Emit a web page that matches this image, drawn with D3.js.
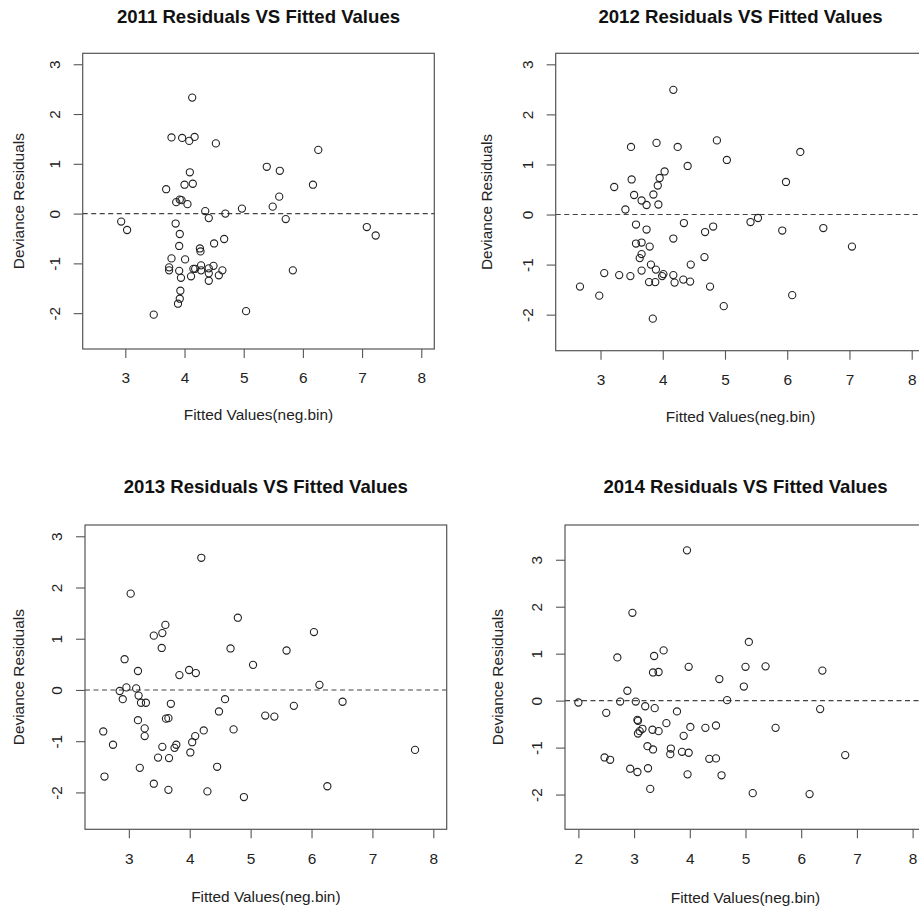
<!DOCTYPE html>
<html>
<head>
<meta charset="utf-8">
<script src="https://cdn.jsdelivr.net/npm/d3@7"></script>
<style>
    body { margin: 0; background: #fff; }
    svg { display: block; font-family: 'Liberation Sans', Arial, Helvetica, sans-serif; }
</style>
</head>
<body>
<svg width="919" height="911"></svg>
<script>
// values
const fitted2011 = [4.13, 3.78, 3.96, 4.08, 4.17, 4.53, 6.26, 5.39, 5.61, 4.09, 4.00, 4.14, 6.17, 3.69, 5.60, 3.86, 3.92, 3.95, 4.05, 5.49, 4.97, 4.35, 4.69, 4.41, 5.71, 2.93, 3.03, 3.85, 3.92, 7.08, 7.23, 4.67, 4.50, 3.91, 4.26, 4.27, 3.78, 4.01, 3.74, 3.74, 3.91, 3.94, 4.11, 4.15, 4.18, 4.28, 4.28, 4.41, 4.41, 4.41, 4.49, 4.58, 4.64, 5.83, 3.93, 3.92, 3.89, 3.48, 5.04];
const resid2011 = [2.33, 1.53, 1.52, 1.46, 1.54, 1.41, 1.28, 0.94, 0.86, 0.83, 0.58, 0.60, 0.58, 0.49, 0.34, 0.23, 0.28, 0.27, 0.19, 0.14, 0.10, 0.05, 0.00, -0.09, -0.11, -0.16, -0.33, -0.20, -0.41, -0.27, -0.44, -0.51, -0.60, -0.65, -0.70, -0.76, -0.90, -0.92, -1.08, -1.14, -1.15, -1.29, -1.26, -1.11, -1.11, -1.04, -1.14, -1.10, -1.20, -1.35, -1.05, -1.24, -1.14, -1.14, -1.55, -1.71, -1.81, -2.03, -1.96];

const fitted2012 = [4.17, 3.49, 3.90, 4.24, 4.87, 5.03, 6.21, 4.40, 5.98, 3.22, 3.50, 3.95, 4.03, 3.92, 3.54, 3.85, 3.66, 3.74, 3.93, 3.40, 3.57, 3.74, 4.34, 4.17, 4.68, 4.81, 5.41, 5.53, 5.92, 6.58, 7.04, 3.57, 3.66, 3.79, 3.66, 3.63, 4.67, 3.81, 3.89, 4.45, 3.66, 3.06, 3.30, 3.48, 3.99, 4.01, 4.17, 3.78, 3.88, 4.19, 4.33, 4.44, 4.76, 2.67, 2.98, 6.08, 4.98, 3.84];
const resid2012 = [2.49, 1.35, 1.43, 1.35, 1.48, 1.09, 1.25, 0.97, 0.65, 0.55, 0.70, 0.73, 0.86, 0.58, 0.39, 0.40, 0.28, 0.19, 0.20, 0.10, -0.20, -0.30, -0.17, -0.48, -0.35, -0.24, -0.15, -0.07, -0.32, -0.27, -0.64, -0.58, -0.56, -0.64, -0.79, -0.87, -0.85, -1.00, -1.10, -1.00, -1.12, -1.17, -1.21, -1.23, -1.23, -1.19, -1.21, -1.35, -1.35, -1.36, -1.30, -1.34, -1.44, -1.44, -1.62, -1.61, -1.83, -2.08];

const fitted2013 = [4.19, 3.03, 4.79, 3.60, 3.41, 3.55, 6.04, 3.54, 4.67, 5.59, 2.93, 3.15, 5.04, 3.99, 4.10, 3.83, 2.85, 2.96, 3.12, 2.90, 3.16, 3.20, 3.28, 6.13, 6.51, 3.69, 4.58, 4.48, 5.71, 5.24, 5.39, 3.61, 3.65, 3.15, 3.26, 3.26, 2.58, 4.23, 4.72, 4.09, 2.74, 4.04, 3.55, 3.75, 3.78, 4.01, 3.48, 3.66, 7.70, 3.18, 4.45, 2.60, 3.41, 3.65, 4.29, 6.26, 4.89];
const resid2013 = [2.58, 1.88, 1.41, 1.27, 1.06, 1.11, 1.13, 0.82, 0.81, 0.77, 0.60, 0.37, 0.49, 0.39, 0.33, 0.29, -0.02, 0.05, 0.03, -0.18, -0.11, -0.25, -0.25, 0.10, -0.23, -0.27, -0.18, -0.42, -0.31, -0.50, -0.52, -0.56, -0.55, -0.59, -0.75, -0.90, -0.81, -0.79, -0.77, -0.90, -1.07, -1.02, -1.11, -1.13, -1.07, -1.22, -1.32, -1.33, -1.17, -1.52, -1.50, -1.69, -1.83, -1.95, -1.98, -1.88, -2.09];

const fitted2014 = [3.95, 2.97, 5.06, 3.53, 2.70, 3.36, 3.98, 5.00, 5.36, 6.38, 3.34, 3.44, 4.53, 4.97, 2.88, 2.00, 2.75, 3.03, 4.67, 3.20, 3.37, 2.50, 3.77, 6.34, 3.06, 3.07, 3.58, 4.01, 4.28, 4.47, 5.54, 3.33, 3.44, 3.15, 3.10, 3.07, 3.89, 3.24, 3.34, 3.66, 3.65, 3.86, 3.98, 6.79, 2.47, 2.57, 4.35, 4.47, 2.93, 3.25, 3.06, 3.96, 4.57, 3.29, 5.13, 6.15];
const resid2014 = [3.20, 1.87, 1.25, 1.07, 0.92, 0.95, 0.72, 0.72, 0.73, 0.64, 0.60, 0.61, 0.46, 0.30, 0.21, -0.04, -0.02, -0.02, 0.01, -0.12, -0.16, -0.26, -0.23, -0.18, -0.41, -0.43, -0.48, -0.56, -0.58, -0.53, -0.58, -0.62, -0.65, -0.60, -0.65, -0.70, -0.75, -0.97, -1.04, -1.02, -1.14, -1.09, -1.11, -1.16, -1.21, -1.26, -1.24, -1.23, -1.45, -1.44, -1.52, -1.57, -1.59, -1.88, -1.97, -1.99];

const years = ['2011', '2012', '2013', '2014'];
const xTicks = [3, 4, 5, 6, 7, 8];
const xTicks2014 = [2, 3, 4, 5, 6, 7, 8];
const yTicks = [-2, -1, 0, 1, 2, 3];
const xLim = [2.5, 8];
const xLim2014 = [2, 8];
const yLim = [-2.5, 3];
const yLim2014 = [-2.5, 3.5];

const xTitle = 'Fitted Values(neg.bin)';
const yTitle = 'Deviance Residuals';

// R pads the axis limits by 4% on each side
const pad = lim => {
    const d = (lim[1] - lim[0]) * 0.04;
    return [lim[0] - d, lim[1] + d];
};

const panels = [
    { year: years[0], fitted: fitted2011, resid: resid2011, xt: xTicks, xl: xLim, yl: yLim,
      box: { left: 82.7, right: 434.3, top: 53.3, bottom: 349 }, titleY: 22.7, xLabY: 415, yLabX: 18.3 },
    { year: years[1], fitted: fitted2012, resid: resid2012, xt: xTicks, xl: xLim, yl: yLim,
      box: { left: 555.7, right: 925.4, top: 53.3, bottom: 350.7 }, titleY: 22.7, xLabY: 416.7, yLabX: 486.7 },
    { year: years[2], fitted: fitted2013, resid: resid2013, xt: xTicks, xl: xLim, yl: yLim,
      box: { left: 85, right: 446.7, top: 525, bottom: 829.3 }, titleY: 493, xLabY: 896.7, yLabX: 18.3 },
    { year: years[3], fitted: fitted2014, resid: resid2014, xt: xTicks2014, xl: xLim2014, yl: yLim2014,
      box: { left: 565, right: 926, top: 525, bottom: 829.3 }, titleY: 493, xLabY: 897.7, yLabX: 497.7 },
];

const svg = d3.select('svg');
// plain hyphen minus, like base R graphics
const fmt = d => String(d);

panels.forEach(p => {
    const b = p.box;
    const x = d3.scaleLinear().domain(pad(p.xl)).range([b.left, b.right]);
    const y = d3.scaleLinear().domain(pad(p.yl)).range([b.bottom, b.top]);
    const g = svg.append('g').classed('panel', true);

    // zero reference line
    g.append('line')
        .attr('x1', b.left)
        .attr('x2', b.right)
        .attr('y1', y(0))
        .attr('y2', y(0))
        .attr('stroke', '#444')
        .attr('stroke-width', 1.1)
        .attr('stroke-dasharray', '5,3.5');

    g.selectAll('circle')
        .data(p.fitted.map((f, i) => [f, p.resid[i]]))
        .enter()
        .append('circle')
        .attr('cx', d => x(d[0]))
        .attr('cy', d => y(d[1]))
        .attr('r', 3.6)
        .attr('fill', 'none')
        .attr('stroke', '#222')
        .attr('stroke-width', 1.1);

    const xAxis = g.append('g')
        .attr('transform', 'translate(0,' + b.bottom + ')')
        .call(d3.axisBottom(x).tickValues(p.xt).tickFormat(fmt).tickSize(9).tickSizeOuter(0).tickPadding(14.5));
    xAxis.select('.domain').remove();

    const yAxis = g.append('g')
        .attr('transform', 'translate(' + b.left + ',0)')
        .call(d3.axisLeft(y).tickValues(yTicks).tickFormat(fmt).tickSize(9).tickSizeOuter(0));
    yAxis.select('.domain').remove();
    yAxis.selectAll('text')
        .attr('x', null)
        .attr('dy', '0.35em')
        .attr('text-anchor', 'middle')
        .attr('transform', 'translate(-28,0) rotate(-90)');

    g.selectAll('.tick line').attr('stroke', '#555').attr('stroke-width', 1.1);
    g.selectAll('.tick text').attr('font-size', 15.4).attr('fill', '#222')
        .attr('font-family', "'Liberation Sans', Arial, sans-serif");

    // plot box
    g.append('rect')
        .attr('x', b.left)
        .attr('y', b.top)
        .attr('width', b.right - b.left)
        .attr('height', b.bottom - b.top)
        .attr('fill', 'none')
        .attr('stroke', '#555')
        .attr('stroke-width', 1.2);

    const cx = (b.left + b.right) / 2;
    g.append('text')
        .text(p.year + ' Residuals VS Fitted Values')
        .attr('x', cx)
        .attr('y', p.titleY)
        .attr('text-anchor', 'middle')
        .attr('font-size', 18.6)
        .attr('font-weight', 'bold')
        .attr('fill', '#111');

    g.append('text')
        .text(xTitle)
        .attr('x', cx)
        .attr('y', p.xLabY)
        .attr('dy', '0.35em')
        .attr('text-anchor', 'middle')
        .attr('font-size', 15.4)
        .attr('fill', '#222');

    g.append('text')
        .text(yTitle)
        .attr('transform', 'translate(' + p.yLabX + ',' + (b.top + b.bottom) / 2 + ') rotate(-90)')
        .attr('dy', '0.35em')
        .attr('text-anchor', 'middle')
        .attr('font-size', 15.4)
        .attr('fill', '#222');
});
</script>
</body>
</html>
